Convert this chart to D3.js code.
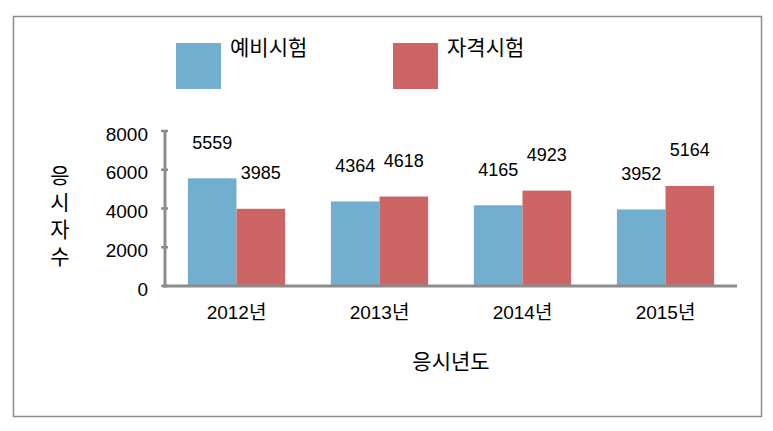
<!DOCTYPE html>
<html><head><meta charset="utf-8">
<script src="https://cdn.jsdelivr.net/npm/d3@7"></script>
<style>body{margin:0;background:#fff;} text{font-family:"Liberation Sans","Noto Sans CJK KR",sans-serif;fill:#000;}</style>
</head><body>
<svg id="c" width="773" height="431"></svg>
<script>
const categories = ["2012년","2013년","2014년","2015년"];
const seriesNames = ["예비시험","자격시험"];
const prelim = [5559,4364,4165,3952];
const qualify = [3985,4618,4923,5164];
const yTicks = [0,2000,4000,6000,8000];
const colors = ["#72AFCF","#CC6563"];

const svg = d3.select("#c");
svg.append("rect").attr("x",13.5).attr("y",16.5).attr("width",748).attr("height",400)
  .attr("fill","none").attr("stroke","#8c8c8c").attr("stroke-width",1.5);

const x0 = 165, x1 = 737, yTop = 131, yBot = 286;
const x = d3.scaleBand().domain(categories).range([x0,x1]).paddingInner(0.32).paddingOuter(0.16);
const xs = d3.scaleBand().domain(seriesNames).range([0,x.bandwidth()]);
const y = d3.scaleLinear().domain([0,8000]).range([yBot,yTop]);

const data = [prelim, qualify];
const g = svg.append("g");
seriesNames.forEach((s,si)=>{
  g.selectAll(".b"+si).data(data[si]).enter().append("rect")
    .attr("x",(d,i)=>x(categories[i])+xs(s))
    .attr("y",d=>y(d)).attr("width",xs.bandwidth()).attr("height",d=>yBot-y(d))
    .attr("fill",colors[si]);
  g.selectAll(".l"+si).data(data[si]).enter().append("text")
    .attr("x",(d,i)=>x(categories[i])+xs(s)+xs.bandwidth()/2)
    .attr("y",d=>y(d)-36).attr("dy","0.35em")
    .attr("text-anchor","middle").attr("font-size",18).text(d=>d);
});

// y axis
const yAxis = svg.append("g");
yAxis.append("line").attr("x1",x0).attr("x2",x0).attr("y1",yTop-1).attr("y2",yBot+1.5)
  .attr("stroke","#8c8c8c").attr("stroke-width",3);
yAxis.selectAll(".t").data(yTicks).enter().append("line")
  .attr("x1",x0-4).attr("x2",x0+3).attr("y1",d=>y(d)).attr("y2",d=>y(d))
  .attr("stroke","#8c8c8c").attr("stroke-width",2.5);
yAxis.selectAll(".tl").data(yTicks).enter().append("text")
  .attr("x",148).attr("y",d=>y(d)+3).attr("dy","0.35em").attr("text-anchor","end")
  .attr("font-size",19).text(d=>d);
// x axis
svg.append("line").attr("x1",x0-2).attr("x2",x1).attr("y1",yBot).attr("y2",yBot)
  .attr("stroke","#8c8c8c").attr("stroke-width",3);
svg.selectAll(".xl").data(categories).enter().append("text")
  .attr("x",d=>x(d)+x.bandwidth()/2).attr("y",312).attr("dy","0.35em")
  .attr("text-anchor","middle").attr("font-size",19).text(d=>d);

svg.append("text").attr("x",451).attr("y",362).attr("dy","0.35em").attr("text-anchor","middle")
  .attr("font-size",21).text("응시년도");
const yt = "응시자수".split("");
svg.selectAll(".yt").data(yt).enter().append("text")
  .attr("x",60).attr("y",(d,i)=>176+i*27).attr("dy","0.35em").attr("text-anchor","middle")
  .attr("font-size",21).text(d=>d);

// legend
const lx = [176,393];
seriesNames.forEach((s,i)=>{
  svg.append("rect").attr("x",lx[i]).attr("y",43).attr("width",45).attr("height",46).attr("fill",colors[i]);
  svg.append("text").attr("x",lx[i]+54).attr("y",48).attr("dy","0.35em").attr("font-size",21).text(s);
});
</script>
</body></html>
